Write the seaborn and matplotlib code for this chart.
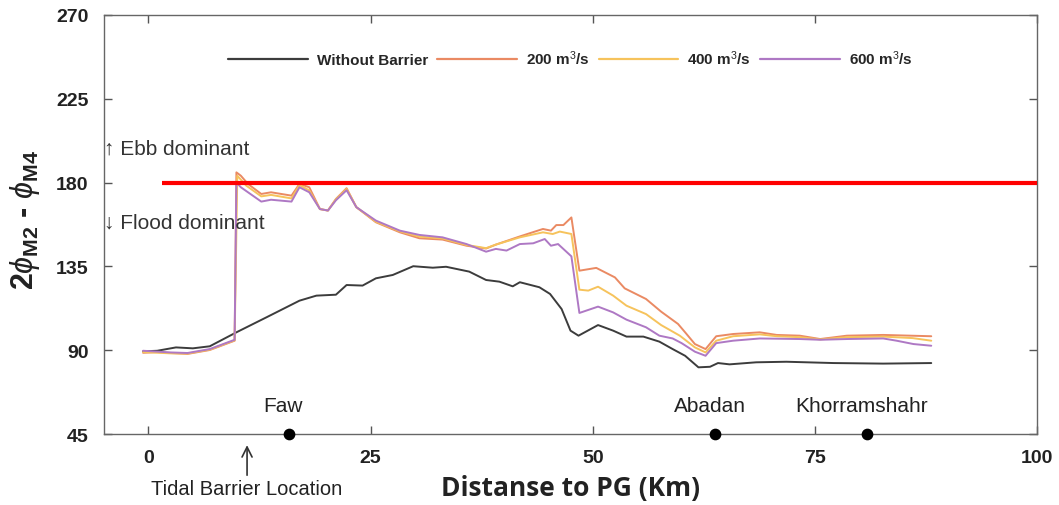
import matplotlib
matplotlib.use("Agg")
import matplotlib.pyplot as plt
from matplotlib import font_manager
import seaborn as sns
import pandas as pd

# ---------------- data ----------------
x_nobar = [-0.6, 1.0, 3.1, 5.0, 6.9, 9.9, 13.3, 17.0, 18.9, 21.1, 22.3, 24.1, 25.6, 27.5, 29.8, 32.0, 33.5,
           36.1, 38.0, 39.5, 41.0, 41.8, 44.0, 45.2, 46.5, 47.5, 48.4, 50.6, 52.3, 53.8, 55.7, 57.5, 59.0,
           60.4, 61.9, 63.2, 64.1, 65.4, 68.4, 71.8, 77.1, 82.7, 88.1]
y_nobar = [89.4, 89.7, 91.5, 91.0, 92.1, 99.6, 107.7, 116.6, 119.3, 119.8, 125.0, 124.7, 128.6, 130.4, 135.1,
           134.3, 134.8, 132.2, 127.7, 126.8, 124.3, 126.5, 123.8, 120.2, 112.1, 100.5, 97.8, 103.5, 100.5,
           97.3, 97.3, 94.6, 90.6, 87.0, 80.8, 81.1, 83.1, 82.4, 83.5, 83.8, 83.1, 82.8, 83.1]

x_200 = [-0.6, 1.0, 2.5, 4.4, 6.9, 9.7, 9.9, 10.4, 11.2, 12.7, 13.8, 16.1, 17.0, 18.1, 19.3, 20.2, 21.1, 22.3,
         23.4, 25.6, 28.3, 30.5, 33.1, 35.8, 38.0, 39.1, 41.8, 44.4, 45.3, 45.9, 46.7, 47.6, 48.5, 50.4, 52.5,
         53.6, 56.0, 57.7, 59.6, 60.4, 61.5, 62.7, 63.9, 65.8, 68.8, 70.7, 73.3, 75.6, 78.6, 82.7, 88.1]
y_200 = [88.6, 89.0, 88.5, 88.0, 90.1, 95.1, 185.5, 183.7, 179.3, 173.9, 174.8, 173.0, 179.3, 177.5, 165.8,
         165.0, 171.2, 177.0, 166.8, 158.7, 153.3, 150.1, 149.4, 146.1, 144.6, 146.7, 151.1, 155.1, 154.2,
         157.2, 157.2, 161.3, 132.7, 134.2, 129.1, 123.2, 117.5, 110.7, 104.1, 99.6, 93.3, 90.6, 97.5, 98.7,
         99.6, 98.2, 97.8, 96.0, 97.8, 98.2, 97.5]

x_400 = [-0.6, 2.5, 4.4, 6.9, 9.7, 10.0, 11.0, 12.7, 13.8, 16.1, 17.0, 18.1, 19.3, 20.2, 21.1, 22.3, 23.4, 25.6,
         28.3, 30.5, 33.1, 35.8, 38.0, 39.1, 41.8, 44.4, 45.5, 46.3, 47.6, 48.5, 49.5, 50.6, 52.3, 53.8, 56.0,
         57.7, 59.8, 61.5, 62.7, 63.9, 65.8, 68.8, 70.7, 73.3, 75.6, 78.6, 82.7, 86.0, 88.1]
y_400 = [89.0, 88.3, 88.2, 90.3, 95.3, 183.7, 178.4, 172.6, 173.4, 171.5, 178.7, 175.8, 165.8, 165.0, 171.0,
         176.6, 166.8, 159.0, 153.8, 151.0, 150.0, 146.5, 144.8, 146.7, 150.6, 153.3, 152.4, 153.7, 152.4,
         122.5, 122.0, 124.1, 119.3, 113.9, 109.4, 103.5, 97.8, 91.5, 88.8, 95.1, 97.5, 98.5, 97.5, 97.0,
         95.8, 97.0, 97.3, 96.5, 95.1]

x_600 = [-0.6, 2.5, 4.4, 6.9, 9.7, 9.9, 10.4, 12.7, 13.8, 16.1, 17.0, 18.1, 19.3, 20.2, 21.1, 22.3, 23.4, 25.6,
         28.3, 30.5, 33.1, 35.8, 38.0, 39.1, 40.3, 41.8, 43.3, 44.6, 45.3, 46.1, 47.6, 48.5, 50.6, 52.3, 53.8,
         56.0, 57.5, 59.0, 60.0, 61.5, 62.7, 63.9, 65.8, 68.8, 73.3, 75.6, 78.6, 82.7, 84.2, 86.1, 88.1]
y_600 = [89.7, 88.8, 88.5, 90.6, 95.6, 180.1, 177.5, 169.8, 170.8, 169.8, 177.5, 174.8, 165.8, 165.0, 170.5,
         175.9, 166.8, 159.6, 154.2, 151.9, 150.6, 147.0, 142.9, 144.4, 143.5, 147.0, 147.4, 149.7, 146.1,
         147.0, 140.4, 110.0, 113.4, 110.3, 106.4, 102.3, 97.8, 96.3, 93.8, 89.2, 87.0, 93.8, 95.1, 96.3,
         96.0, 95.6, 96.0, 96.3, 95.1, 93.3, 92.4]

series_names = ["Without Barrier", "200 m$^3$/s", "400 m$^3$/s", "600 m$^3$/s"]
series_x = [x_nobar, x_200, x_400, x_600]
series_y = [y_nobar, y_200, y_400, y_600]

threshold = 180
threshold_start = 1.5

station_names = ["Faw", "Abadan", "Khorramshahr"]
station_km = [15.8, 63.8, 80.9]
barrier_km = 11.1

x_ticks = [0, 25, 50, 75, 100]
y_ticks = [45, 90, 135, 180, 225, 270]

# ---------------- styling ----------------
sns.set_theme(style="white")
avail = {f.name for f in font_manager.fontManager.ttflist}
narrow = "Liberation Sans Narrow" if "Liberation Sans Narrow" in avail else "Liberation Sans"
plt.rcParams["font.family"] = ["Liberation Sans", "DejaVu Sans"]
plt.rcParams["mathtext.fontset"] = "custom"
plt.rcParams["mathtext.rm"] = "Liberation Sans"
plt.rcParams["mathtext.it"] = "Liberation Sans:italic"
plt.rcParams["mathtext.bf"] = "Liberation Sans:bold"

colors = ["#3c3c3c", "#EA8A63", "#F6C35C", "#AE78C4"]

frames = []
for name, xs, ys in zip(series_names, series_x, series_y):
    frames.append(pd.DataFrame({"km": xs, "val": ys, "series": name}))
df = pd.concat(frames, ignore_index=True)

fig = plt.figure(figsize=(10.59, 5.06), dpi=100)
ax = fig.add_axes([104 / 1059, 1 - 435 / 506, (1037 - 104) / 1059, (435 - 16) / 506])

sns.lineplot(data=df, x="km", y="val", hue="series", hue_order=series_names,
             palette=colors, sort=False, estimator=None, linewidth=1.4, ax=ax, legend=False)

ax.hlines(threshold, threshold_start, 100, color="#ff0000", linewidth=3, zorder=5)

ax.set_xlim(-5, 100)
ax.set_ylim(45, 270)
ax.set_xticks(x_ticks)
ax.set_yticks(y_ticks)
ax.tick_params(direction="in", length=6, width=1, color="#555555",
               top=True, right=True, bottom=True, left=True, pad=11)
for lab in ax.get_xticklabels() + ax.get_yticklabels():
    lab.set_fontfamily(narrow)
    lab.set_fontweight("bold")
    lab.set_fontsize(14)
    lab.set_color("#222222")
for sp in ax.spines.values():
    sp.set_color("#666666")
    sp.set_linewidth(1.0)

# legend
handles = [plt.Line2D([], [], color=c, linewidth=1.6) for c in colors]
leg = ax.legend(handles, series_names, loc="center", bbox_to_anchor=(0.5, 0.897), ncol=4,
                frameon=False, handlelength=5.2, handletextpad=0.6, columnspacing=0.6,
                prop={"family": narrow, "weight": "bold", "size": 11})

# stations
ax.scatter(station_km, [45] * len(station_km), s=55, color="black", zorder=6, clip_on=False)
for nm, km in zip(station_names, station_km):
    ax.text(km - 0.6, 55, nm, ha="center", va="bottom", fontsize=15, color="#222222")

# dominance notes
ax.text(-5, 198.5, "\u2191 Ebb dominant", ha="left", va="center", fontsize=15, color="#333333",
        family=["Liberation Sans", "DejaVu Sans"])
ax.text(-5, 159, "\u2193 Flood dominant", ha="left", va="center", fontsize=15, color="#333333",
        family=["Liberation Sans", "DejaVu Sans"])

# barrier arrow
ax.annotate("", xy=(barrier_km, -0.02), xycoords=("data", "axes fraction"),
            xytext=(barrier_km, -0.105), textcoords=("data", "axes fraction"),
            arrowprops=dict(arrowstyle="->", color="#333333", lw=1.2, mutation_scale=18))
ax.text(barrier_km, -0.13, "Tidal Barrier Location", transform=ax.get_xaxis_transform(),
        ha="center", va="center", fontsize=14.5, family=narrow, color="#222222")

ax.set_xlabel("Distanse to PG (Km)", fontsize=19, fontweight="bold", family=["Open Sans", "DejaVu Sans"],
              color="#222222")
ax.xaxis.set_label_coords(0.5, -0.095)
ax.set_ylabel(r"$\mathbf{2}\phi_{\mathbf{M2}}$ - $\phi_{\mathbf{M4}}$", fontsize=22,
              fontweight="bold", color="#222222")
ax.yaxis.set_label_coords(-0.066, 0.513)

fig.savefig("out.png", dpi=100)
